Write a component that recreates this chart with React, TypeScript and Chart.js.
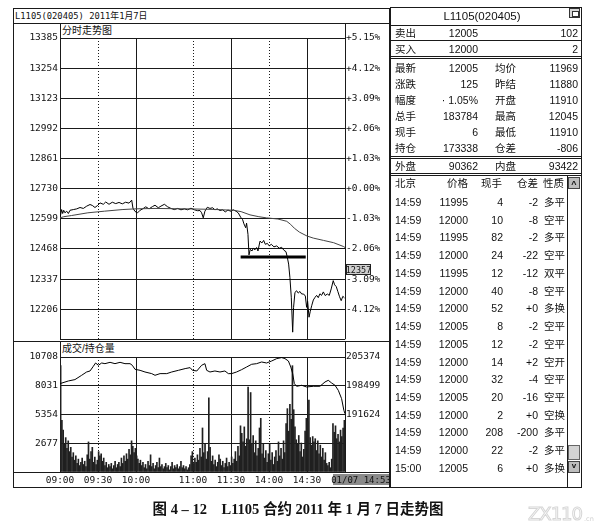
import React, { useEffect, useRef } from 'react';
import { Chart, registerables } from 'chart.js';
Chart.register(...registerables);

// ---------- price panel data ----------
const priceMinutes = [0,1.3,2.1,2.9,3.9,5.3,6.6,7.9,10.5,13.2,15.8,18.4,21.1,23.7,25.5,27.6,29.7,31.6,34.2,36.1,38.7,41.3,44,46.6,49.2,51.8,54.5,56.6,57.6,59.2,61.3,63.2,65.3,67.7,70.3,73,75,77.6,79.7,82.4,85,87.6,90.3,92.9,95.5,98.2,100.8,103.4,106.1,108.7,110.5,111.8,113.1,114.4,116.3,118.4,120.5,122.3,124.2,126.3,128.4,130.5,132.6,134.7,136.8,139,140.8,142.6,144.2,145.2,146.6,147.3,148.4,149.2,150.2,151.6,152.6,153.9,155.2,156.3,157.9,159.4,160.8,162.1,163.7,165.2,166.8,168.9,171.1,173.1,175,176.8,178.4,179.4,180.5,181.5,182.6,183.7,184.4,185.5,186.8,188.1,189.4,190.8,192.3,193.7,194.7,195.5,196.6,197.6,198.7,200,201.3,202.6,203.9,205.2,206.5,207.9,209.4,211,212.6,214.1,215.7,216.8,218.1,219.4,220.7,222,223.3,224.6];
const priceValues = [12603,12639,12622,12636,12625,12632,12622,12636,12639,12642,12648,12644,12654,12661,12657,12648,12657,12668,12662,12672,12662,12671,12665,12670,12664,12671,12667,12680,12645,12631,12625,12636,12642,12651,12642,12652,12658,12647,12654,12662,12651,12644,12639,12644,12638,12642,12638,12645,12638,12634,12635,12625,12603,12632,12649,12644,12647,12638,12642,12635,12638,12629,12637,12632,12638,12632,12624,12606,12595,12577,12560,12580,12531,12442,12466,12459,12471,12464,12474,12459,12502,12494,12505,12488,12492,12481,12488,12477,12481,12471,12475,12462,12456,12433,12402,12344,12258,12106,12214,12279,12286,12276,12283,12272,12272,12263,12214,12240,12171,12197,12221,12246,12257,12266,12256,12273,12266,12281,12265,12272,12266,12294,12330,12312,12304,12282,12260,12243,12262,12255];
const avgMinutes = [0,3,9,22,35,49,59,75,101,120,137,143,150,157,163,172,179,182,185,189,195,200,208,216,224,225];
const avgValues = [12603,12608,12613,12625,12632,12639,12642,12644,12642,12640,12636,12630,12616,12608,12603,12598,12588,12575,12558,12541,12524,12515,12505,12495,12478,12474];
const markLineMinutes = [142.6, 194];
const markLineValues = [12433, 12433];

const priceMin = 12075;
const priceMax = 13385;
const priceStep = 131;
const prevSettle = 12730;

// ---------- volume / open interest data ----------
const volumes = [
  9900,4800,3900,2600,3200,2200,2900,1900,2300,1400,
  1800,1100,1500,800,1200,600,900,1300,700,1000,
  500,1600,2800,1200,1900,2300,900,1400,700,1100,
  1900,1500,1700,1000,1300,600,900,400,700,500,
  800,300,600,1000,400,700,900,500,1300,800,
  1500,1000,1700,1200,2100,1600,2900,2400,1800,2200,
  1500,1200,800,1100,600,900,400,700,300,1000,
  600,1600,500,800,300,600,900,400,1300,500,
  700,300,500,800,400,600,200,500,900,300,
  600,400,700,300,500,1000,400,600,300,500,
  200,400,700,1500,1900,800,1300,900,1600,1100,
  2200,1400,4100,1800,2600,1200,1900,6900,2300,1000,
  1500,700,1100,500,900,1600,1200,600,1000,400,
  800,1300,500,900,600,1400,800,1200,1900,1000,
  2400,1500,4300,3600,2800,4200,2400,3100,7900,3000,
  7400,2600,3400,1800,2900,1500,2200,4100,5000,1700,
  2600,1300,2000,900,1700,2600,1100,1800,700,1400,
  2000,1000,2800,1500,2200,1200,2900,1800,4500,5900,
  3800,6300,4900,9900,5800,4200,3000,2600,3400,1900,
  2700,1400,2100,3800,5000,4700,6700,3200,2500,3300,
  2800,3100,2000,2900,1700,2500,1400,2200,1100,1800,
  800,600,900,400,1200,4500,3700,4300,3100,3500,
  2800,3900,3300,4100,4800
];
const oiMinutes = [0,6.6,11.8,17.1,21,23.7,26.3,28.1,30.3,32.9,35.5,39.5,43.4,47.4,51.3,55.3,57.1,59.2,63.2,67.1,72.4,75,79,84.3,88.2,93.5,98.8,102.7,104.6,108,111.8,114.4,115.8,118.4,122.3,126.3,130.2,132.9,135.5,139.4,143.4,147.3,151.3,155.2,159.2,163.1,167.1,171.1,175,177.6,180.3,182.2,183.7,185,186.8,190.8,194.7,200,205.2,209.2,211.8,214.4,217.1,219.7,222.3,224.1,225];
const oiValues = [199010,199640,199970,201000,201790,202030,203150,203940,203390,203940,203780,204100,203780,204100,203780,203780,203390,202430,202190,201790,201400,201000,201400,201400,201790,202190,202600,202830,202190,202030,203390,203780,202190,201790,202030,201790,202030,201400,201400,201790,202350,202980,203630,203780,204180,203940,204420,204990,205230,204990,204420,202980,201400,199010,198370,198610,198210,198370,198370,199400,199800,199170,198610,197410,195420,192630,191800];

const volMax = 10708;
const volStep = 2677;
const oiMin = 177874;
const oiMax = 205374;
const oiStep = 6875;

// ---------- time axis ----------
const sessionMinutes = 225;
const timeTickMinutes = [0, 30, 60, 105, 135, 165, 195];
const timeTickLabels = ['09:00', '09:30', '10:00', '11:00', '11:30', '14:00', '14:30'];
const solidGridMinutes = [60, 135, 195];
const dottedGridMinutes = [30, 105, 165];

// ---------- quote panel ----------
const panelTitle = 'L1105(020405)';
const sellRow = ['卖出', '12005', '102'];
const buyRow = ['买入', '12000', '2'];
const quoteLabelsLeft = ['最新', '涨跌', '幅度', '总手', '现手', '持仓'];
const quoteValuesLeft = ['12005', '125', '· 1.05%', '183784', '6', '173338'];
const quoteLabelsRight = ['均价', '昨结', '开盘', '最高', '最低', '仓差'];
const quoteValuesRight = ['11969', '11880', '11910', '12045', '11910', '-806'];
const outerInnerRow = ['外盘', '90362', '内盘', '93422'];
const tickHeader = ['北京', '价格', '现手', '仓差', '性质'];
const tickTimes = ['14:59','14:59','14:59','14:59','14:59','14:59','14:59','14:59','14:59','14:59','14:59','14:59','14:59','14:59','14:59','15:00'];
const tickPrices = ['11995','12000','11995','12000','11995','12000','12000','12005','12005','12000','12000','12005','12000','12000','12000','12005'];
const tickSizes = ['4','10','82','24','12','40','52','8','12','14','32','20','2','208','22','6'];
const tickOiChanges = ['-2','-8','-2','-22','-12','-8','+0','-2','-2','+2','-4','-16','+0','-200','-2','+0'];
const tickTypes = ['多平','空平','多平','空平','双平','空平','多换','空平','空平','空开','空平','空平','空换','多平','多平','多换'];

const chartTitle = 'L1105(020405) 2011年1月7日';
const pricePanelTitle = '分时走势图';
const volumePanelTitle = '成交/持仓量';
const cursorPriceLabel = '12357';
const cursorTimeLabel = '01/07 14:53';
const caption = '图 4 – 12    L1105 合约 2011 年 1 月 7 日走势图';

const AXIS_FONT = { family: '"DejaVu Sans Mono", "Liberation Mono", monospace', size: 9.5 };
const TABLE_FONT = '"Liberation Sans", "Noto Sans CJK SC", sans-serif';
const MONO_FONT = '"DejaVu Sans Mono", "Noto Sans CJK SC", monospace';
const LINE = '#1a1a1a';

const verticalGrid = {
  id: 'verticalGrid',
  beforeDatasetsDraw(chart: any) {
    const { ctx, chartArea, scales } = chart;
    const xs = scales.x;
    ctx.save();
    ctx.strokeStyle = LINE;
    ctx.lineWidth = 1;
    const draw = (m: number, top: number) => {
      const px = Math.round(xs.getPixelForValue(m)) + 0.5;
      ctx.beginPath();
      ctx.moveTo(px, top);
      ctx.lineTo(px, chartArea.bottom);
      ctx.stroke();
    };
    solidGridMinutes.forEach((m) => draw(m, chartArea.top));
    draw(0, 0);
    draw(sessionMinutes, 0);
    ctx.setLineDash([1, 2]);
    dottedGridMinutes.forEach((m) => draw(m, chartArea.top));
    ctx.restore();
  },
};

function pts(xs: number[], ys: number[]) {
  return xs.map((x, i) => ({ x, y: ys[i] }));
}

const Txt = ({ x, y, a = 'l', s = 10.5, f = TABLE_FONT, bold = false, children, style = {} }: any) => (
  <span
    style={{
      position: 'absolute',
      left: x,
      top: y,
      transform: `translate(${a === 'r' ? '-100%' : a === 'c' ? '-50%' : '0'}, -50%)`,
      fontSize: s,
      fontFamily: f,
      lineHeight: 1,
      whiteSpace: 'pre',
      color: '#111',
      fontWeight: bold ? 700 : 400,
      ...style,
    }}
  >
    {children}
  </span>
);

const HL = ({ x1, x2, y, w = 1 }: any) => (
  <div style={{ position: 'absolute', left: x1, top: y, width: x2 - x1, height: w, background: LINE }} />
);
const VL = ({ x, y1, y2, w = 1 }: any) => (
  <div style={{ position: 'absolute', left: x, top: y1, width: w, height: y2 - y1, background: LINE }} />
);

export default function App() {
  const priceRef = useRef<HTMLCanvasElement>(null);
  const volRef = useRef<HTMLCanvasElement>(null);

  useEffect(() => {
    const xScale = {
      type: 'linear',
      min: 0,
      max: sessionMinutes,
      display: false,
      offset: false,
      grid: { display: false, offset: false },
    };
    const price = new Chart(priceRef.current as HTMLCanvasElement, {
      type: 'line',
      data: {
        datasets: [
          { data: pts(avgMinutes, avgValues), borderColor: '#444', borderWidth: 1, pointRadius: 0, tension: 0, yAxisID: 'y' },
          { data: pts(priceMinutes, priceValues), borderColor: '#000', borderWidth: 1, pointRadius: 0, tension: 0, yAxisID: 'y' },
          { data: pts(markLineMinutes, markLineValues), borderColor: '#000', borderWidth: 3, pointRadius: 0, yAxisID: 'y' },
        ],
      },
      options: {
        animation: false,
        responsive: false,
        devicePixelRatio: 1,
        layout: { padding: { top: 15, bottom: 6, left: 0, right: 0 } },
        plugins: { legend: { display: false }, tooltip: { enabled: false } },
        scales: {
          x: xScale as any,
          y: {
            position: 'left',
            min: priceMin,
            max: priceMax,
            afterFit: (s: any) => { s.width = 47; },
            afterBuildTicks: (s: any) => {
              const t = [];
              for (let v = priceMin; v <= priceMax; v += priceStep) t.push({ value: v });
              s.ticks = t;
            },
            ticks: {
              padding: 2,
              color: '#111',
              font: AXIS_FONT,
              callback: (v: any) => (v === priceMin ? '' : String(v)),
            },
            grid: { color: LINE, lineWidth: 1, drawTicks: false },
            border: { display: false },
          },
          y1: {
            position: 'right',
            min: priceMin,
            max: priceMax,
            afterFit: (s: any) => { s.width = 45; },
            afterBuildTicks: (s: any) => {
              const t = [];
              for (let v = priceMin; v <= priceMax; v += priceStep) t.push({ value: v });
              s.ticks = t;
            },
            ticks: {
              padding: 1,
              color: '#111',
              font: AXIS_FONT,
              callback: (v: any) => {
                if (v === priceMin) return '';
                const p = ((v - prevSettle) / prevSettle) * 100;
                return (p >= 0 ? '+' : '-') + Math.abs(p).toFixed(2) + '%';
              },
            },
            grid: { display: false, drawTicks: false },
            border: { display: false },
          },
        },
      } as any,
      plugins: [verticalGrid],
    });

    const vol = new Chart(volRef.current as HTMLCanvasElement, {
      type: 'bar',
      data: {
        datasets: [
          {
            type: 'line',
            data: pts(oiMinutes, oiValues),
            borderColor: '#000',
            borderWidth: 1,
            pointRadius: 0,
            tension: 0,
            yAxisID: 'oi',
          } as any,
          {
            type: 'bar',
            data: volumes.map((v, i) => ({ x: i + 0.5, y: v })),
            backgroundColor: '#202020',
            barThickness: 1,
            yAxisID: 'vol',
          },
        ],
      },
      options: {
        animation: false,
        responsive: false,
        devicePixelRatio: 1,
        layout: { padding: { top: 16, bottom: 0, left: 0, right: 0 } },
        plugins: { legend: { display: false }, tooltip: { enabled: false } },
        scales: {
          x: {
            type: 'linear',
            min: 0,
            max: sessionMinutes,
            offset: false,
            afterFit: (s: any) => { s.height = 15; },
            afterBuildTicks: (s: any) => { s.ticks = timeTickMinutes.map((v) => ({ value: v })); },
            ticks: {
              autoSkip: false,
              maxRotation: 0,
              padding: 3,
              color: '#111',
              font: AXIS_FONT,
              callback: (v: any) => {
                const i = timeTickMinutes.indexOf(v);
                return i >= 0 ? timeTickLabels[i] : '';
              },
            },
            grid: { display: false, drawTicks: false, offset: false },
            border: { display: false },
          },
          vol: {
            position: 'left',
            min: 0,
            max: volMax,
            afterFit: (s: any) => { s.width = 47; },
            afterBuildTicks: (s: any) => {
              const t = [];
              for (let v = 0; v <= volMax; v += volStep) t.push({ value: v });
              s.ticks = t;
            },
            ticks: {
              padding: 2,
              color: '#111',
              font: AXIS_FONT,
              callback: (v: any) => (v === 0 ? '' : String(v)),
            },
            grid: { color: LINE, lineWidth: 1, drawTicks: false },
            border: { display: false },
          },
          oi: {
            position: 'right',
            min: oiMin,
            max: oiMax,
            afterFit: (s: any) => { s.width = 45; },
            afterBuildTicks: (s: any) => {
              const t = [];
              for (let v = oiMin; v <= oiMax; v += oiStep) t.push({ value: v });
              s.ticks = t;
            },
            ticks: {
              padding: 1,
              color: '#111',
              font: AXIS_FONT,
              callback: (v: any) => (v < oiMax - 2 * oiStep - 1 ? '' : String(v)),
            },
            grid: { display: false, drawTicks: false },
            border: { display: false },
          },
        },
      } as any,
      plugins: [verticalGrid],
    });

    return () => {
      price.destroy();
      vol.destroy();
    };
  }, []);

  const rowY0 = 68.3;
  const rowDy = 16;
  const listY0 = 202;
  const listDy = 17.73;

  return (
    <div style={{ position: 'absolute', left: 0, top: 0, width: 605, height: 532, background: '#fff', overflow: 'hidden' }}>
      {/* left frame */}
      <div style={{ position: 'absolute', left: 13, top: 8, width: 377, height: 480, border: `1px solid ${LINE}`, boxSizing: 'border-box' }} />
      <HL x1={13} x2={390} y={23} />
      <HL x1={13} x2={390} y={341} />
      <HL x1={13} x2={390} y={472} />
      <Txt x={15} y={15.5} s={8.8} f={MONO_FONT}>{chartTitle}</Txt>
      <Txt x={62} y={31} s={10} f={TABLE_FONT}>{pricePanelTitle}</Txt>
      <Txt x={62} y={349} s={10} f={TABLE_FONT}>{volumePanelTitle}</Txt>

      <canvas ref={priceRef} width={377} height={324} style={{ position: 'absolute', left: 13, top: 23 }} />
      <canvas ref={volRef} width={377} height={146} style={{ position: 'absolute', left: 13, top: 341 }} />

      <div style={{ position: 'absolute', left: 346, top: 264, width: 25, height: 11, border: '1px solid #222', background: '#cfcfcf', boxSizing: 'border-box' }} />
      <Txt x={358.5} y={269.5} a="c" s={8.5} f={MONO_FONT}>{cursorPriceLabel}</Txt>
      <div style={{ position: 'absolute', left: 333, top: 474, width: 56, height: 11, background: '#8a8a8a' }} />
      <Txt x={361} y={479.5} a="c" s={9} f={MONO_FONT}>{cursorTimeLabel}</Txt>

      {/* right quote panel */}
      <div style={{ position: 'absolute', left: 390, top: 7, width: 192, height: 481, border: `1px solid ${LINE}`, boxSizing: 'border-box' }} />
      <HL x1={390} x2={582} y={25} />
      <HL x1={390} x2={582} y={39.5} w={1.5} />
      <HL x1={390} x2={582} y={56} />
      <HL x1={390} x2={582} y={58} />
      <HL x1={390} x2={582} y={156} />
      <HL x1={390} x2={582} y={158} />
      <HL x1={390} x2={582} y={173} />
      <HL x1={390} x2={582} y={175} />
      <div style={{ position: 'absolute', left: 569, top: 8, width: 11, height: 10, border: '1px solid #333', background: '#d8d8d8', boxSizing: 'border-box' }}>
        <div style={{ position: 'absolute', left: 2, top: 2, width: 5, height: 4, border: '1px solid #333', background: '#fff' }} />
      </div>
      <Txt x={482} y={17} a="c" s={11.5}>{panelTitle}</Txt>

      <Txt x={395} y={33} >{sellRow[0]}</Txt>
      <Txt x={478} y={33} a="r">{sellRow[1]}</Txt>
      <Txt x={578} y={33} a="r">{sellRow[2]}</Txt>
      <Txt x={395} y={48.5}>{buyRow[0]}</Txt>
      <Txt x={478} y={48.5} a="r">{buyRow[1]}</Txt>
      <Txt x={578} y={48.5} a="r">{buyRow[2]}</Txt>

      {quoteLabelsLeft.map((l, i) => (
        <React.Fragment key={l}>
          <Txt x={395} y={rowY0 + i * rowDy}>{l}</Txt>
          <Txt x={478} y={rowY0 + i * rowDy} a="r">{quoteValuesLeft[i]}</Txt>
          <Txt x={495} y={rowY0 + i * rowDy}>{quoteLabelsRight[i]}</Txt>
          <Txt x={578} y={rowY0 + i * rowDy} a="r">{quoteValuesRight[i]}</Txt>
        </React.Fragment>
      ))}

      <Txt x={395} y={165.5}>{outerInnerRow[0]}</Txt>
      <Txt x={478} y={165.5} a="r">{outerInnerRow[1]}</Txt>
      <Txt x={495} y={165.5}>{outerInnerRow[2]}</Txt>
      <Txt x={578} y={165.5} a="r">{outerInnerRow[3]}</Txt>

      {/* scrollbar */}
      <VL x={567} y1={175} y2={487} />
      <div style={{ position: 'absolute', left: 568, top: 177, width: 12, height: 12, background: '#bdbdbd', border: '1px solid #444', boxSizing: 'border-box' }} />
      <Txt x={574} y={183.5} a="c" s={9} bold>^</Txt>
      <div style={{ position: 'absolute', left: 568, top: 445, width: 12, height: 15, background: '#d4d4d4', border: '1px solid #666', boxSizing: 'border-box' }} />
      <div style={{ position: 'absolute', left: 568, top: 461, width: 12, height: 12, background: '#bdbdbd', border: '1px solid #444', boxSizing: 'border-box' }} />
      <Txt x={574} y={466} a="c" s={8} bold>v</Txt>

      <Txt x={395} y={183}>{tickHeader[0]}</Txt>
      <Txt x={468} y={183} a="r">{tickHeader[1]}</Txt>
      <Txt x={502} y={183} a="r">{tickHeader[2]}</Txt>
      <Txt x={538} y={183} a="r">{tickHeader[3]}</Txt>
      <Txt x={543} y={183}>{tickHeader[4]}</Txt>
      {tickTimes.map((t, i) => (
        <React.Fragment key={i}>
          <Txt x={395} y={listY0 + i * listDy}>{t}</Txt>
          <Txt x={468} y={listY0 + i * listDy} a="r">{tickPrices[i]}</Txt>
          <Txt x={503} y={listY0 + i * listDy} a="r">{tickSizes[i]}</Txt>
          <Txt x={538} y={listY0 + i * listDy} a="r">{tickOiChanges[i]}</Txt>
          <Txt x={544} y={listY0 + i * listDy}>{tickTypes[i]}</Txt>
        </React.Fragment>
      ))}

      {/* caption */}
      <Txt x={298} y={508.5} a="c" s={14.5} bold f={'"Liberation Serif", "Noto Sans CJK SC", serif'}>{caption}</Txt>
      <Txt x={528} y={514} s={18} f={'"DejaVu Sans", sans-serif'} style={{ color: 'transparent', WebkitTextStroke: '1px #d6d6d6', letterSpacing: -1 }}>ZX110</Txt>
      <Txt x={584} y={519} s={6.5} f={'"DejaVu Sans", sans-serif'} style={{ color: '#d0d0d0' }}>.cn</Txt>
    </div>
  );
}
